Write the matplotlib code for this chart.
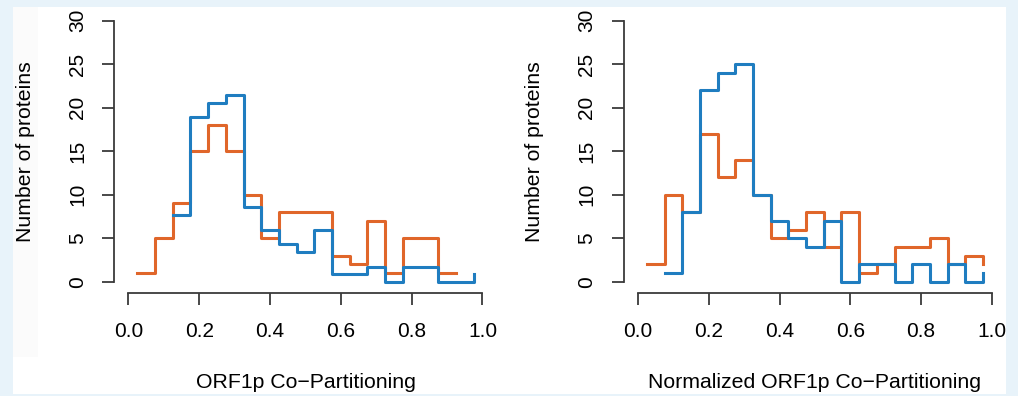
"""Two step histograms of ORF1p co-partitioning, R base-graphics look."""
import matplotlib

matplotlib.use("Agg")
import matplotlib.pyplot as plt
from matplotlib.patches import Rectangle

plt.rcParams["font.family"] = ["Liberation Sans", "DejaVu Sans"]

ORANGE = "#E0662A"
BLUE = "#1F7DC0"
AXIS = "#3a3a3a"

# bin centres
centres = [0.025, 0.075, 0.125, 0.175, 0.225, 0.275, 0.325, 0.375, 0.425,
           0.475, 0.525, 0.575, 0.625, 0.675, 0.725, 0.775, 0.825, 0.875,
           0.925, 0.975]

# left panel: raw co-partitioning
left_orange_x = centres[:19]
left_orange = [1, 5, 9, 15, 18, 15, 10, 5, 8, 8, 8, 3, 2, 7, 1, 5, 5, 1, 1]
left_blue_x = centres[2:]
left_blue = [7.7, 18.9, 20.6, 21.5, 8.6, 6.0, 4.3, 3.4, 6.0, 0.86, 0.86,
             1.72, 0, 1.72, 1.72, 0, 0, 0.86]

# right panel: normalized co-partitioning
right_orange_x = centres
right_orange = [2, 10, 8, 17, 12, 14, 10, 5, 6, 8, 4, 8, 1, 2, 4, 4, 5, 2, 3, 2]
right_blue_x = centres[1:]
right_blue = [1, 8, 22, 24, 25, 10, 7, 5, 4, 7, 0, 2, 2, 0, 2, 0, 2, 0, 1]

xticks = [0.0, 0.2, 0.4, 0.6, 0.8, 1.0]
yticks = [0, 5, 10, 15, 20, 25, 30]

W, H = 1018, 396
fig = plt.figure(figsize=(W / 100, H / 100), dpi=100)
fig.patch.set_facecolor("#E8F3FA")
fig.patches.append(Rectangle((13 / W, 1 - 394 / H), (1006 - 13) / W, (394 - 7) / H,
                             transform=fig.transFigure, facecolor="white",
                             edgecolor="none", zorder=-10))
fig.patches.append(Rectangle((13 / W, 1 - 357 / H), 25 / W, 350 / H,
                             transform=fig.transFigure, facecolor="#fbfbfb",
                             edgecolor="none", zorder=-9))

panels = [
    (114.3, left_orange_x, left_orange, left_blue_x, left_blue,
     "ORF1p Co\u2212Partitioning"),
    (623.8, right_orange_x, right_orange, right_blue_x, right_blue,
     "Normalized ORF1p Co\u2212Partitioning"),
]

for x0, ox, oy, bx, by, xlabel in panels:
    ax = fig.add_axes([x0 / W, 1 - 293.3 / H, 382.3 / W, 283.0 / H])
    ax.patch.set_alpha(0)
    ax.step(ox, oy, where="post", color=ORANGE, lw=2.2)
    ax.step(bx, by, where="post", color=BLUE, lw=2.2)
    ax.set_xlim(-0.04, 1.04)
    ax.set_ylim(-1.33, 31.2)
    for s in ("top", "right"):
        ax.spines[s].set_visible(False)
    ax.spines["left"].set_bounds(0, 30)
    ax.spines["bottom"].set_bounds(0, 1)
    for s in ("left", "bottom"):
        ax.spines[s].set_color(AXIS)
        ax.spines[s].set_linewidth(1.3)
    ax.set_xticks(xticks)
    ax.set_xticklabels([f"{t:.1f}" for t in xticks])
    ax.set_yticks(yticks)
    ax.set_yticklabels([str(t) for t in yticks], rotation=90, va="center")
    ax.tick_params(axis="both", length=8.7, width=1.3, color=AXIS,
                   labelsize=15)
    ax.tick_params(axis="x", pad=12)
    ax.tick_params(axis="y", pad=11)
    cx = (x0 + 382.3 / 2) / W
    fig.text(cx, 1 - 383 / H, xlabel, ha="center", va="center", fontsize=15.3)
    fig.text((x0 - 89) / W, 1 - 151.7 / H, "Number of proteins", rotation=90,
             ha="center", va="center", fontsize=15.3)

fig.savefig("out.png", dpi=100)
